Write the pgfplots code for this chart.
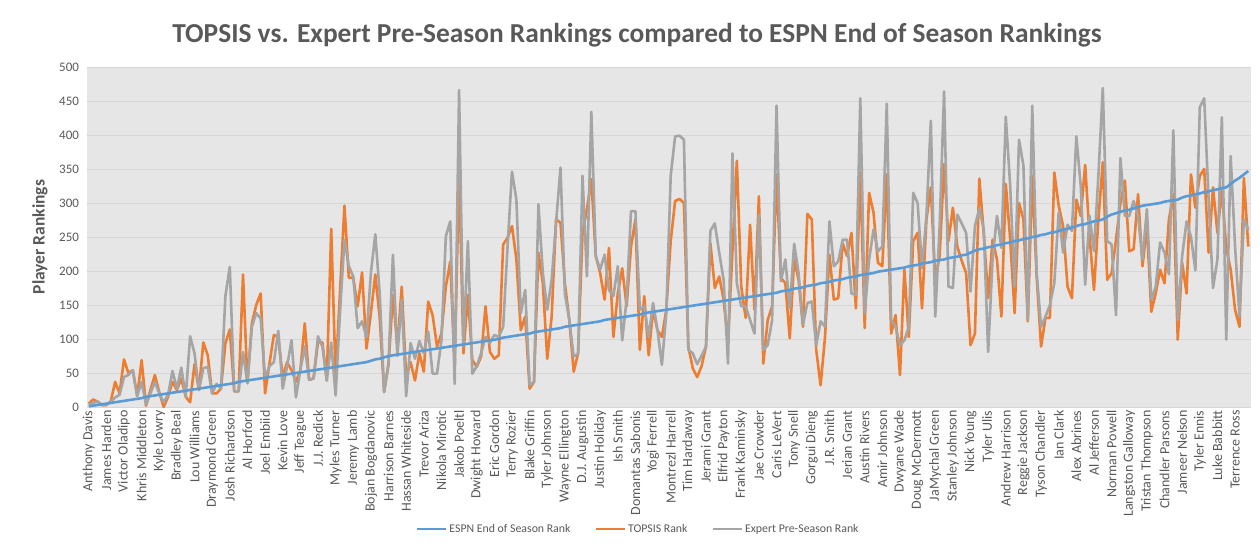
\documentclass[border=0pt]{standalone}
\usepackage{fontspec}
\setmainfont{Carlito}
\usepackage{pgfplots}
\pgfplotsset{compat=1.18}
\usepackage{pgfplotstable}
\definecolor{espn}{HTML}{5B9BD5}
\definecolor{topsis}{HTML}{ED7D31}
\definecolor{expert}{HTML}{A5A5A5}
\definecolor{txt}{HTML}{595959}
\definecolor{plotbg}{HTML}{E7E6E6}
\definecolor{gridc}{HTML}{D6D6D6}
\pgfplotstableread{
i espn topsis expert
1 1 5 3
2 2 11 6
3 3 8 8
4 4 3 3
5 5 3 3
6 6 8 8
7 7 37 14
8 8 20 18
9 9 70 44
10 10 50 47
11 11 54 54
12 12 16 16
13 13 69 37
14 15 2 4
15 16 25 20
16 17 47 37
17 18 22 20
18 19 0 7
19 20 15 18
20 21 37 53
21 22 25 27
22 23 42 58
23 24 15 15
24 25 7 104
25 26 63 79
26 27 25 25
27 28 95 57
28 29 76 59
29 30 20 20
30 31 20 34
31 32 27 27
32 33 94 163
33 34 114 206
34 35 23 23
35 37 23 23
36 38 195 81
37 39 35 35
38 40 123 118
39 41 150 138
40 42 167 130
41 43 20 42
42 44 64 60
43 45 106 66
44 46 103 112
45 47 44 27
46 48 66 60
47 49 54 98
48 50 37 14
49 51 54 54
50 52 123 89
51 53 40 40
52 54 42 42
53 55 95 104
54 56 95 89
55 57 39 39
56 58 262 95
57 59 45 17
58 60 170 140
59 61 296 246
60 62 190 207
61 63 190 192
62 64 148 116
63 65 198 126
64 66 86 103
65 68 138 197
66 70 195 254
67 71 131 167
68 73 22 22
69 75 62 66
70 76 165 224
71 77 89 75
72 78 177 158
73 79 44 16
74 80 66 94
75 81 39 71
76 82 79 97
77 83 52 79
78 84 155 111
79 85 135 49
80 86 89 49
81 87 108 98
82 88 177 251
83 89 214 273
84 90 60 34
85 91 345 466
86 92 79 90
87 93 165 244
88 94 69 49
89 95 59 60
90 96 74 79
91 97 148 103
92 98 81 94
93 99 71 106
94 100 76 103
95 102 239 118
96 103 249 236
97 104 266 346
98 105 217 305
99 106 113 138
100 107 133 172
101 108 27 32
102 110 37 37
103 111 227 298
104 112 182 197
105 113 71 143
106 114 133 187
107 115 276 271
108 116 271 352
109 118 182 167
110 119 128 128
111 120 52 74
112 121 79 79
113 122 256 340
114 123 291 192
115 124 335 434
116 125 222 222
117 126 197 202
118 128 158 224
119 129 234 172
120 130 103 163
121 131 167 207
122 132 204 98
123 133 148 158
124 134 236 288
125 135 276 288
126 136 84 143
127 138 163 148
128 139 76 103
129 140 143 153
130 141 113 113
131 142 103 62
132 143 143 138
133 144 244 340
134 145 303 398
135 146 306 399
136 147 300 393
137 148 89 84
138 149 57 79
139 150 44 63
140 151 60 75
141 152 89 89
142 153 241 259
143 154 175 270
144 155 192 227
145 156 158 187
146 157 94 64
147 158 230 373
148 159 362 182
149 160 177 148
150 161 131 148
151 162 268 128
152 163 143 108
153 164 310 283
154 165 64 84
155 166 128 91
156 167 148 128
157 168 342 443
158 170 190 185
159 171 182 217
160 172 101 145
161 174 217 240
162 175 187 197
163 176 118 121
164 178 284 153
165 179 276 155
166 180 84 91
167 182 32 126
168 183 103 118
169 184 224 273
170 186 158 207
171 187 160 214
172 188 241 246
173 190 222 246
174 191 256 167
175 192 145 165
176 194 345 454
177 195 116 138
178 196 315 217
179 197 286 261
180 199 212 229
181 200 207 236
182 201 342 446
183 202 108 128
184 203 135 118
185 204 47 91
186 205 202 98
187 207 103 118
188 208 244 315
189 209 256 300
190 211 145 204
191 212 276 281
192 213 323 421
193 215 187 133
194 216 222 266
195 217 357 464
196 219 244 177
197 220 293 175
198 221 236 283
199 223 215 270
200 224 197 256
201 227 91 170
202 230 108 266
203 232 336 292
204 233 256 261
205 235 160 81
206 236 246 217
207 238 217 281
208 239 133 234
209 241 328 427
210 242 246 325
211 244 138 177
212 245 300 393
213 247 276 355
214 248 126 128
215 250 340 443
216 251 192 197
217 253 89 118
218 254 131 133
219 256 131 150
220 257 345 182
221 259 296 286
222 261 266 227
223 262 177 268
224 264 160 259
225 266 305 398
226 268 281 325
227 269 356 180
228 271 251 281
229 273 172 229
230 274 276 340
231 276 360 469
232 280 187 244
233 283 197 239
234 285 246 135
235 287 300 366
236 289 333 281
237 290 229 281
238 292 232 303
239 294 313 281
240 296 207 217
241 297 266 291
242 298 140 158
243 299 167 177
244 300 202 242
245 302 182 227
246 303 276 195
247 304 313 407
248 305 99 128
249 308 212 222
250 310 167 273
251 311 342 250
252 313 293 201
253 314 340 441
254 316 350 454
255 317 227 305
256 319 323 175
257 320 256 217
258 322 320 426
259 323 234 99
260 328 202 369
261 333 143 236
262 337 118 133
263 342 337 276
264 347 236 261
}\ranks
\begin{document}
\begin{tikzpicture}
\path[use as bounding box] (0,0) rectangle (1260pt,546pt);
\node[font=\bfseries\fontsize{27.4}{32}\selectfont, text=txt] at (637pt,511pt)
  {TOPSIS vs. Expert Pre-Season Rankings compared to ESPN End of Season Rankings};
\begin{axis}[
  at={(86.5pt,139pt)}, anchor=south west,
  scale only axis, width=1164pt, height=340pt,
  xmin=0.5, xmax=264.5, ymin=0, ymax=500,
  axis background/.style={fill=plotbg},
  axis line style={draw=none},
  ytick={0,50,...,500},
  ymajorgrids, grid style={gridc, line width=0.8pt},
  major tick length=0pt,
  xtick={1,5,...,261},
  xticklabels={Anthony Davis, James Harden, Victor Oladipo, Khris Middleton, Kyle Lowry, Bradley Beal, Lou Williams, Draymond Green, Josh Richardson, Al Horford, Joel Embiid, Kevin Love, Jeff Teague, J.J. Redick, Myles Turner, Jeremy Lamb, Bojan Bogdanovic, Harrison Barnes, Hassan Whiteside, Trevor Ariza, Nikola Mirotic, Jakob Poeltl, Dwight Howard, Eric Gordon, Terry Rozier, Blake Griffin, Tyler Johnson, Wayne Ellington, D.J. Augustin, Justin Holiday, Ish Smith, Domantas Sabonis, Yogi Ferrell, Montrezl Harrell, Tim Hardaway, Jerami Grant, Elfrid Payton, Frank Kaminsky, Jae Crowder, Caris LeVert, Tony Snell, Gorgui Dieng, J.R. Smith, Jerian Grant, Austin Rivers, Amir Johnson, Dwyane Wade, Doug McDermott, JaMychal Green, Stanley Johnson, Nick Young, Tyler Ulis, Andrew Harrison, Reggie Jackson, Tyson Chandler, Ian Clark, Alex Abrines, Al Jefferson, Norman Powell, Langston Galloway, Tristan Thompson, Chandler Parsons, Jameer Nelson, Tyler Ennis, Luke Babbitt, Terrence Ross},
  xticklabel style={rotate=90, anchor=east, font=\fontsize{14}{16}\selectfont, text=txt},
  yticklabel style={font=\fontsize{13}{15}\selectfont, text=txt, anchor=east, xshift=-4pt},
  /pgf/number format/assume math mode=true,
  ylabel={Player Rankings},
  ylabel style={font=\bfseries\fontsize{17.5}{20}\selectfont, text=txt, at={(axis description cs:-0.0399,0.5)}, anchor=center},
  legend columns=3,
  legend style={at={(axis description cs:0.474,-0.359)}, anchor=center, draw=none, fill=none,
    font=\fontsize{11.8}{14}\selectfont, text=txt,
    /tikz/every even column/.append style={column sep=22pt}},
  legend image code/.code={\draw[#1] (0pt,0pt) -- (29pt,0pt);},
  every axis plot/.append style={line width=2.6pt, line join=round},
]
\addlegendimage{espn, line width=2.6pt}
\addlegendentry{ESPN End of Season Rank}
\addlegendimage{topsis, line width=2.6pt}
\addlegendentry{TOPSIS Rank}
\addlegendimage{expert, line width=2.6pt}
\addlegendentry{Expert Pre-Season Rank}
\addplot[topsis, forget plot] table[x=i, y=topsis] {\ranks};
\addplot[expert, forget plot] table[x=i, y=expert] {\ranks};
\addplot[espn, forget plot] table[x=i, y=espn] {\ranks};
\end{axis}
\end{tikzpicture}
\end{document}
